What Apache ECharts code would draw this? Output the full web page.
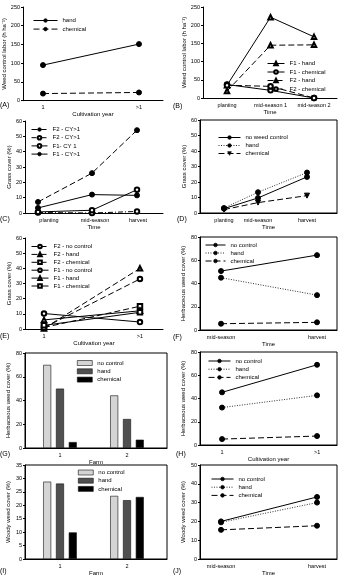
<!DOCTYPE html>
<html>
<head>
<meta charset="utf-8">
<script src="https://cdn.jsdelivr.net/npm/echarts@6/dist/echarts.min.js"></script>
<style>
  html, body { margin: 0; padding: 0; background: #fff; }
  #chart { width: 340px; height: 580px; }
</style>
</head>
<body>
<div id="chart"></div>
<script>
// (A) weed control labor by cultivation year
const yearLabels = ['1', '>1']
const aHand = [95, 151]
const aChemical = [19, 22]

// (B) weed control labor over time
const bTimeLabels = ['planting', 'mid-season 1', 'mid-season 2']
const bF1Hand = [35, 222, 168]
const bF1Chemical = [37, 21, 0]
const bF2Hand = [19, 145, 146]
const bF2Chemical = [35, 32, 0]

// (C) grass cover over time, by farm and cultivation year
const timeLabels = ['planting', 'mid-season', 'harvest']
const cTimePos = [13, 67, 112]
const cLabelPos = [24, 70, 113]
const cF2CYgt1 = [7.2, 26, 54]
const cF2CYgt1b = [0.3, 0, 1]
const cF1CY1 = [0.7, 1.8, 15.2]
const cF1CYgt1 = [3.3, 12, 11.5]

// (D) grass cover over time, by treatment
const dTimePos = [24, 58, 107]
const dNoControl = [2.8, 9.7, 23.3]
const dHand = [3.2, 13.4, 26.1]
const dChemical = [2.2, 6.7, 11.2]

// (E) grass cover by cultivation year
const eF2NoControl = [0.9, 33]
const eF2Hand = [0.4, 40]
const eF2Chemical = [1, 15]
const eF1NoControl = [10.2, 4.6]
const eF1Hand = [6, 12]
const eF1Chemical = [2.4, 11]

// (F) herbaceous weed cover over time
const seasonLabels = ['mid-season', 'harvest']
const fNoControl = [50.7, 64.4]
const fHand = [45, 30]
const fChemical = [5.4, 6.6]

// (G) herbaceous weed cover by farm
const farmLabels = ['1', '2']
const gNoControl = [70, 44.3]
const gHand = [50, 24.4]
const gChemical = [5, 7]

// (H) herbaceous weed cover by cultivation year
const hNoControl = [45.3, 69]
const hHand = [32.2, 42.7]
const hChemical = [5.1, 7.7]

// (I) woody weed cover by farm
const iNoControl = [28.8, 23.5]
const iHand = [28.1, 21.9]
const iChemical = [9.9, 23.1]

// (J) woody weed cover over time
const jNoControl = [20, 33]
const jHand = [19.5, 30]
const jChemical = [15.5, 17.7]

const FONT = 'Liberation Sans'
const pos2 = [0, 1]
const pos3 = [0, 1, 2]
const pts = (xs, ys) => ys.map((y, i) => [xs[i], y])

const grids = [
  { left: 23, top: 7, width: 140, height: 93.7 },            // A
  { left: 203, top: 7, width: 134, height: 91 },             // B
  { left: 25, top: 121, width: 138, height: 92 },            // C
  { left: 200, top: 120, width: 137, height: 93, show: true }, // D
  { left: 25, top: 238, width: 138, height: 91 },            // E
  { left: 200, top: 237, width: 137, height: 93, show: true }, // F
  { left: 25, top: 353, width: 142, height: 95, show: true }, // G
  { left: 200, top: 352, width: 137, height: 93, show: true }, // H
  { left: 25, top: 465, width: 142, height: 94, show: true }, // I
  { left: 200, top: 465, width: 137, height: 94, show: true }  // J
].map(g => Object.assign({ borderColor: '#000', borderWidth: 1, backgroundColor: 'transparent', outerBoundsMode: 'none' }, g))

function xAxisOf(grid, min, max, ticks, labels, name, nameGap) {
  return {
    gridIndex: grid, type: 'value', min, max,
    name, nameLocation: 'middle', nameGap,
    nameTextStyle: { fontSize: 6, color: '#000', fontFamily: FONT },
    axisLine: { onZero: false, lineStyle: { color: '#000', width: 1 } },
    axisTick: { show: false },
    splitLine: { show: false },
    axisLabel: {
      customValues: ticks,
      formatter: v => labels[ticks.indexOf(v)],
      fontSize: 5.5, color: '#000', margin: 4, fontFamily: FONT
    }
  }
}

function yAxisOf(grid, max, interval, name, nameGap) {
  return {
    gridIndex: grid, type: 'value', min: 0, max, interval,
    name, nameLocation: 'middle', nameGap,
    nameTextStyle: { fontSize: 6, color: '#000', fontFamily: FONT },
    axisLine: { show: true, onZero: false, lineStyle: { color: '#000', width: 1 } },
    axisTick: { show: true, length: 2, lineStyle: { color: '#000' } },
    splitLine: { show: false },
    axisLabel: { fontSize: 5.5, color: '#000', margin: 3, fontFamily: FONT }
  }
}

function line(name, grid, data, symbol, dash, extra) {
  const empty = symbol.startsWith('empty')
  return Object.assign({
    name, type: 'line', xAxisIndex: grid, yAxisIndex: grid, data,
    symbol, symbolSize: empty ? 4.5 : 5,
    lineStyle: { color: '#000', width: 1, type: dash || 'solid' },
    itemStyle: { color: '#000', borderColor: '#000', borderWidth: empty ? 0.7 : 1 }
  }, extra || {})
}

function bar(name, grid, data, color) {
  return {
    name, type: 'bar', xAxisIndex: grid, yAxisIndex: grid, data,
    barWidth: 8, barGap: '60%',
    itemStyle: { color, borderColor: '#111', borderWidth: 0.6 }
  }
}

function legendOf(names, left, top, itemWidth, itemGap, isBar) {
  const lg = {
    data: names, orient: 'vertical', left, top, padding: 0,
    itemWidth, itemHeight: isBar ? 5 : 4.5, itemGap,
    selectedMode: false,
    formatter: n => n.split('|')[1],
    itemStyle: { borderWidth: 0.7 },
    lineStyle: { width: 1 },
    textStyle: { fontSize: 6, color: '#000', fontFamily: FONT, lineHeight: 7 }
  }
  if (isBar) {
    lg.icon = 'rect'
    lg.itemStyle = { borderWidth: 0.6, borderColor: '#111' }
  }
  return lg
}

const LONG = [6, 3]
const DOT = [1, 1.5]
const dotStyle = { lineStyle: { color: '#333', width: 1, type: DOT } }

const series = [
  // A
  line('A|hand', 0, pts(pos2, aHand), 'circle'),
  line('A|chemical', 0, pts(pos2, aChemical), 'circle', LONG),
  // B
  line('B|F1 - hand', 1, pts(pos3, bF1Hand), 'emptyTriangle'),
  line('B|F1 - chemical', 1, pts(pos3, bF1Chemical), 'emptyCircle'),
  line('B|F2 - hand', 1, pts(pos3, bF2Hand), 'emptyTriangle', LONG),
  line('B|F2 - chemical', 1, pts(pos3, bF2Chemical), 'emptyCircle', LONG),
  // C
  line('C|F2 - CY>1', 2, pts(cTimePos, cF2CYgt1), 'circle', LONG),
  line('C|F2 - CY>1 ', 2, pts(cTimePos, cF2CYgt1b), 'emptyCircle', [5, 2, 1, 2]),
  line('C|F1- CY 1', 2, pts(cTimePos, cF1CY1), 'emptyCircle'),
  line('C|F1 - CY>1', 2, pts(cTimePos, cF1CYgt1), 'circle'),
  // D
  line('D|no weed control', 3, pts(dTimePos, dNoControl), 'circle'),
  line('D|hand', 3, pts(dTimePos, dHand), 'circle', null, dotStyle),
  line('D|chemical', 3, pts(dTimePos, dChemical), 'triangle', LONG, { symbolRotate: 180 }),
  // E
  line('E|F2 - no control', 4, pts(pos2, eF2NoControl), 'emptyCircle', LONG),
  line('E|F2 - hand', 4, pts(pos2, eF2Hand), 'emptyTriangle', LONG),
  line('E|F2 - chemical', 4, pts(pos2, eF2Chemical), 'emptyRect', LONG),
  line('E|F1 - no control', 4, pts(pos2, eF1NoControl), 'emptyCircle'),
  line('E|F1 - hand', 4, pts(pos2, eF1Hand), 'emptyTriangle'),
  line('E|F1 - chemical', 4, pts(pos2, eF1Chemical), 'emptyRect'),
  // F
  line('F|no control', 5, pts(pos2, fNoControl), 'circle'),
  line('F|hand', 5, pts(pos2, fHand), 'circle', null, dotStyle),
  line('F|chemical', 5, pts(pos2, fChemical), 'circle', LONG),
  // G
  bar('G|no control', 6, pts(pos2, gNoControl), '#d4d4d4'),
  bar('G|hand', 6, pts(pos2, gHand), '#505050'),
  bar('G|chemical', 6, pts(pos2, gChemical), '#000'),
  // H
  line('H|no control', 7, pts(pos2, hNoControl), 'circle'),
  line('H|hand', 7, pts(pos2, hHand), 'circle', null, dotStyle),
  line('H|chemical', 7, pts(pos2, hChemical), 'circle', LONG),
  // I
  bar('I|no control', 8, pts(pos2, iNoControl), '#d4d4d4'),
  bar('I|hand', 8, pts(pos2, iHand), '#505050'),
  bar('I|chemical', 8, pts(pos2, iChemical), '#000'),
  // J
  line('J|no control', 9, pts(pos2, jNoControl), 'circle'),
  line('J|hand', 9, pts(pos2, jHand), 'circle', null, dotStyle),
  line('J|chemical', 9, pts(pos2, jChemical), 'circle', LONG)
]

const namesOf = p => series.filter(s => s.name.startsWith(p + '|')).map(s => s.name)

const labor = 'Weed control labor (h ha\u207B\u00B9)'
const grass = 'Grass cover (%)'
const herb = 'Herbaceous weed cover (%)'
const woody = 'Woody weed cover (%)'

const letters = ['(A)', '(B)', '(C)', '(D)', '(E)', '(F)', '(G)', '(H)', '(I)', '(J)']
const letterAt = [[0, 106], [173, 107], [0, 220], [177, 220], [0, 337], [173, 338], [0, 455], [176, 455], [0, 572], [173, 572]]

const chart = echarts.init(document.getElementById('chart'), null, { renderer: 'canvas' })
chart.setOption({
  animation: false,
  backgroundColor: '#fff',
  textStyle: { fontFamily: FONT },
  grid: grids,
  xAxis: [
    xAxisOf(0, -0.208, 1.25, pos2, yearLabels, 'Cultivation year', 9),
    xAxisOf(1, -0.552, 2.528, pos3, bTimeLabels, 'Time', 10),
    xAxisOf(2, 0, 138, cLabelPos, timeLabels, 'Time', 11),
    xAxisOf(3, 0, 137, dTimePos, timeLabels, 'Time', 10),
    xAxisOf(4, -0.198, 1.24, pos2, yearLabels, 'Cultivation year', 10),
    xAxisOf(5, -0.219, 1.208, pos2, seasonLabels, 'Time', 10),
    xAxisOf(6, -0.522, 1.597, pos2, farmLabels, 'Farm', 7),
    xAxisOf(7, -0.232, 1.21, pos2, yearLabels, 'Cultivation year', 10),
    xAxisOf(8, -0.522, 1.597, pos2, farmLabels, 'Farm', 10),
    xAxisOf(9, -0.219, 1.208, pos2, seasonLabels, 'Time', 10)
  ],
  yAxis: [
    yAxisOf(0, 250, 50, labor, 11),
    yAxisOf(1, 250, 50, labor, 14),
    yAxisOf(2, 60, 10, grass, 13),
    yAxisOf(3, 60, 10, grass, 13),
    yAxisOf(4, 60, 10, grass, 13),
    yAxisOf(5, 80, 20, herb, 14),
    yAxisOf(6, 80, 20, herb, 14),
    yAxisOf(7, 80, 20, herb, 14),
    yAxisOf(8, 35, 5, woody, 14),
    yAxisOf(9, 50, 10, woody, 14)
  ],
  legend: [
    legendOf(namesOf('A'), 33, 17, 24, 1.6),
    legendOf(namesOf('B'), 267, 60, 17, 1.5),
    legendOf(namesOf('C'), 31, 126, 16, 1.2),
    legendOf(namesOf('D'), 218, 134, 22, 1),
    legendOf(namesOf('E'), 31, 243, 17, 0.9),
    legendOf(namesOf('F'), 205, 241.5, 20, 1),
    legendOf(namesOf('G'), 77, 359.5, 15, 1.3, true),
    legendOf(namesOf('H'), 208, 357.5, 22, 1.2),
    legendOf(namesOf('I'), 78, 469, 15, 1.2, true),
    legendOf(namesOf('J'), 211, 475.5, 22, 1.2)
  ],
  graphic: letters.map((t, i) => ({
    type: 'text', left: letterAt[i][0], top: letterAt[i][1] - 4,
    style: { text: t, fontSize: 7, fill: '#000', fontFamily: FONT }
  })),
  series
})
</script>
</body>
</html>
